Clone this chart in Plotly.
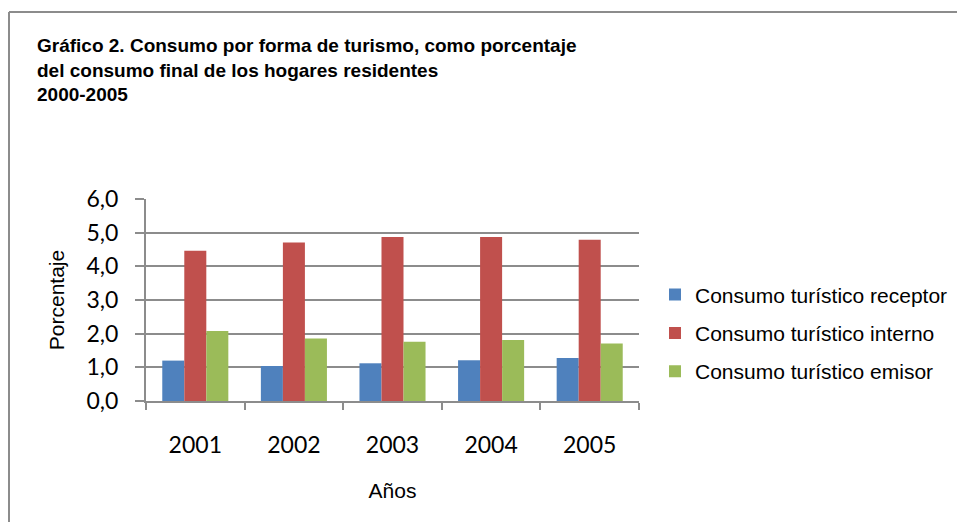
import plotly.graph_objects as go

# data
years = ["2001", "2002", "2003", "2004", "2005"]
receptor = [1.20, 1.04, 1.12, 1.21, 1.28]
interno = [4.46, 4.71, 4.87, 4.87, 4.79]
emisor = [2.08, 1.86, 1.76, 1.81, 1.71]
series_names = ["Consumo turístico receptor", "Consumo turístico interno", "Consumo turístico emisor"]
y_ticks = [0, 1, 2, 3, 4, 5, 6]
y_tick_labels = ["0,0", "1,0", "2,0", "3,0", "4,0", "5,0", "6,0"]

colors = ["#4F81BD", "#C0504D", "#9BBB59"]
grid = "#8C8C8C"

# page body has an 8px margin, so keep the figure inside the window
W, H = 949, 514
L, R, T, B = 138, 318, 191, 121
pw, ph = W - L - R, H - T - B

fig = go.Figure()
for i, (name, vals) in enumerate(zip(series_names, [receptor, interno, emisor])):
    fig.add_trace(go.Bar(
        x=years, y=vals, name=name,
        marker=dict(color=colors[i], line=dict(width=0)),
        legendgroup=str(i),
    ))

# chart area border: only left and top edges are visible
fig.add_shape(type="line", xref="paper", yref="paper",
              x0=(1 - L) / pw, x1=(W - L) / pw,
              y0=(H - B - 4) / ph, y1=(H - B - 4) / ph,
              line=dict(color=grid, width=2))
fig.add_shape(type="line", xref="paper", yref="paper",
              x0=(1 - L) / pw, x1=(1 - L) / pw,
              y0=-B / ph, y1=(H - B - 4) / ph,
              line=dict(color=grid, width=2))

fig.update_layout(
    width=W, height=H,
    margin=dict(l=L, r=R, t=T, b=B, autoexpand=False),
    paper_bgcolor="white", plot_bgcolor="white",
    barmode="group", bargap=0.33, bargroupgap=0,
    title=dict(
        text="Gráfico 2. Consumo por forma de turismo, como porcentaje<br>"
             "del consumo final de los hogares residentes<br>2000-2005",
        x=29 / W, xanchor="left", xref="container",
        y=1 - 44 / H, yanchor="top", yref="container",
        font=dict(family="Liberation Sans, Arial", size=19, color="black", weight="bold"),
    ),
    legend=dict(
        x=(647 - L) / pw, xanchor="left", y=0.337, yanchor="middle",
        font=dict(family="Liberation Sans, Arial", size=21, color="black"),
        tracegroupgap=8, itemwidth=30, bgcolor="rgba(0,0,0,0)",
    ),
    showlegend=True,
)

fig.update_xaxes(
    showline=True, linecolor=grid, linewidth=2,
    ticks="outside", ticklen=7, tickcolor=grid, tickwidth=2,
    tickson="boundaries", ticklabelstandoff=22,
    tickfont=dict(family="Lato, Carlito, Calibri", size=23, color="black"),
    title=dict(text="Años", font=dict(family="Liberation Sans, Arial", size=21, color="black"), standoff=27),
)
fig.update_yaxes(
    range=[0, 6], tickvals=y_ticks, ticktext=y_tick_labels,
    showline=True, linecolor=grid, linewidth=2,
    showgrid=True, gridcolor=grid, gridwidth=2,
    ticks="outside", ticklen=9, tickcolor=grid, tickwidth=2,
    ticklabelstandoff=12,
    tickfont=dict(family="Lato, Carlito, Calibri", size=23, color="black"),
    title=dict(text="Porcentaje", font=dict(family="Liberation Sans, Arial", size=21, color="black"), standoff=16),
    zeroline=False,
)

fig.write_html("out.html")
